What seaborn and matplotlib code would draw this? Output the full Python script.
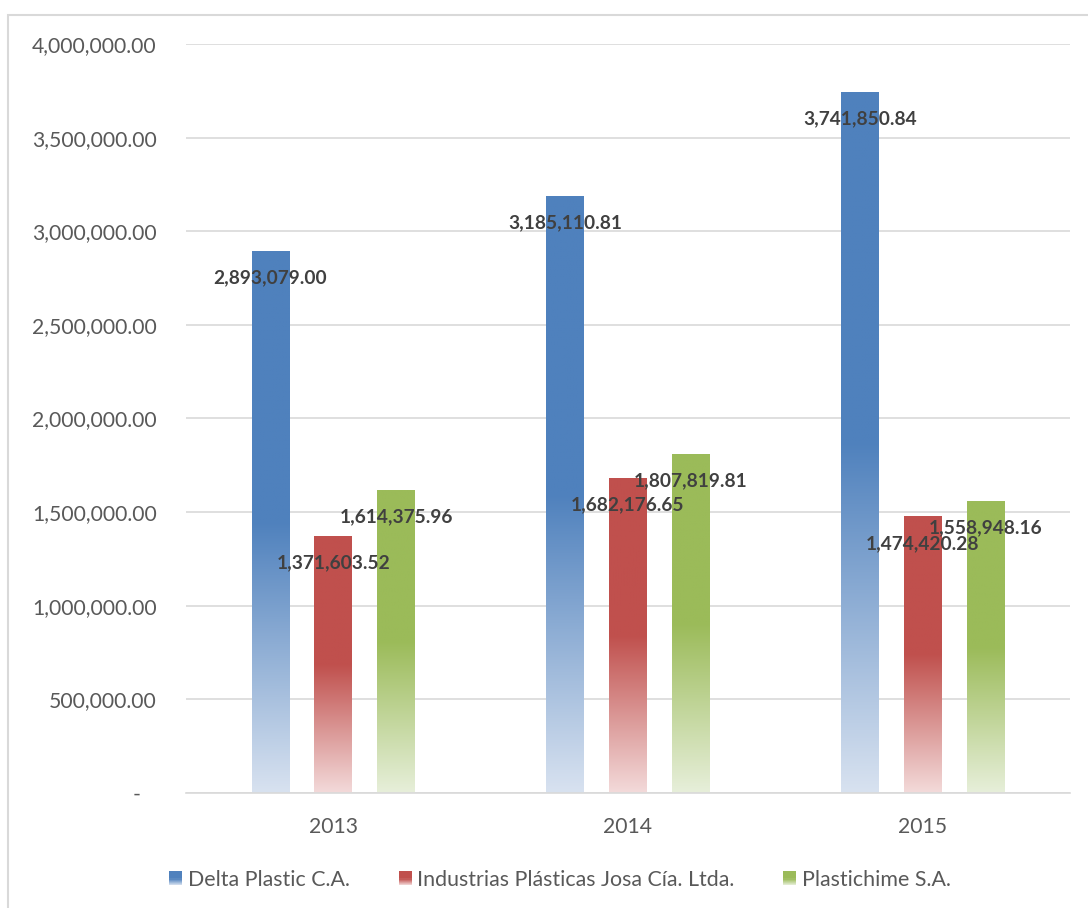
import numpy as np
import pandas as pd
import matplotlib
matplotlib.use("Agg")
import matplotlib.pyplot as plt
import matplotlib.colors as mcolors
from matplotlib.patches import Rectangle
from matplotlib.legend_handler import HandlerBase
from matplotlib.ticker import FuncFormatter
import seaborn as sns

# ---- data ----
years = ["2013", "2014", "2015"]
companies = ["Delta Plastic C.A.", "Industrias Plásticas Josa Cía. Ltda.", "Plastichime S.A."]
delta_plastic = [2893079.00, 3185110.81, 3741850.84]
josa = [1371603.52, 1682176.65, 1474420.28]
plastichime = [1614375.96, 1807819.81, 1558948.16]
yticks = [0, 500000, 1000000, 1500000, 2000000, 2500000, 3000000, 3500000, 4000000]

base_colors = ["#4F81BD", "#C0504D", "#9BBB59"]
light_colors = ["#D8E2F0", "#F3DADA", "#E7EFDA"]

rows = []
for comp, vals in zip(companies, [delta_plastic, josa, plastichime]):
    for y, v in zip(years, vals):
        rows.append({"year": y, "company": comp, "value": v})
df = pd.DataFrame(rows)

sns.set_theme(style="white")
plt.rcParams["font.family"] = ["Lato", "DejaVu Sans"]

fig = plt.figure(figsize=(10.88, 9.08), dpi=100)
ax = fig.add_axes([186 / 1088, 1 - 793 / 908, (1070 - 186) / 1088, (793 - 44) / 908])

sns.barplot(data=df, x="year", y="value", hue="company", hue_order=companies,
            order=years, palette=base_colors, width=0.64, gap=0.4,
            legend=False, errorbar=None, ax=ax)


def gradient_array(base, light, n=256, start=0.5):
    b = np.array(mcolors.to_rgb(base))
    l = np.array(mcolors.to_rgb(light))
    t = np.linspace(0, 1, n)  # 0 = top, 1 = bottom
    f = np.clip((t - start) / (1 - start), 0, 1)[:, None]
    rgb = b * (1 - f) + l * f
    return rgb[:, None, :]


# map each bar to its company via its face color
base_rgb = [mcolors.to_rgb(c) for c in base_colors]
bars = list(ax.patches)
for p in bars:
    fc = mcolors.to_rgb(p.get_facecolor())
    idx = int(np.argmin([np.sum((np.array(fc) - np.array(c)) ** 2) for c in base_rgb]))
    x0, w = p.get_x(), p.get_width()
    h = p.get_height()
    img = gradient_array(base_colors[idx], light_colors[idx])
    ax.imshow(img, extent=(x0, x0 + w, 0, h), aspect="auto", zorder=2,
              interpolation="bilinear")
    p.set_facecolor("none")
    p.set_edgecolor("none")
    # data label
    ax.annotate(f"{h:,.2f}", xy=(x0 + w / 2, h), xytext=(0, -19),
                textcoords="offset points", ha="center", va="center",
                fontsize=13.8, fontweight="bold", color="#404040", zorder=5)

ax.set_xlim(-0.5, 2.5)
ax.set_ylim(0, 4000000)
ax.set_yticks(yticks)
ax.yaxis.set_major_formatter(FuncFormatter(lambda v, pos: "-   " if v == 0 else f"{v:,.2f}"))
ax.grid(axis="y", color="#D9D9D9", linewidth=1.2, zorder=0)
ax.set_axisbelow(True)
ax.set_xlabel("")
ax.set_ylabel("")
for s in ["top", "right", "left"]:
    ax.spines[s].set_visible(False)
ax.spines["bottom"].set_color("#D9D9D9")
ax.spines["bottom"].set_linewidth(1.2)
ax.tick_params(axis="y", length=0, pad=21, labelsize=15.2, labelcolor="#595959")
ax.tick_params(axis="x", length=0, pad=17, labelsize=15.2, labelcolor="#595959")


class GradHandler(HandlerBase):
    def __init__(self, base, light):
        super().__init__()
        self.base = base
        self.light = light

    def create_artists(self, legend, orig_handle, xdescent, ydescent, width, height, fontsize, trans):
        n = 12
        arts = []
        b = np.array(mcolors.to_rgb(self.base))
        l = np.array(mcolors.to_rgb(self.light))
        for i in range(n):
            t = (i + 0.5) / n  # from bottom
            tt = 1 - t  # from top
            f = np.clip((tt - 0.5) / 0.5, 0, 1)
            col = b * (1 - f) + l * f
            r = Rectangle((-xdescent, -ydescent + i * height / n), width, height / n + 0.2,
                          facecolor=col, edgecolor="none", transform=trans)
            arts.append(r)
        return arts


handles = [Rectangle((0, 0), 1, 1, facecolor=c) for c in base_colors]
handler_map = {h: GradHandler(bc, lc) for h, bc, lc in zip(handles, base_colors, light_colors)}
fig.legend(handles, companies, handler_map=handler_map, loc="center",
           bbox_to_anchor=(560 / 1088, 1 - 880 / 908), ncol=3, frameon=False,
           fontsize=15.4, labelcolor="#595959", handlelength=0.6, handleheight=0.6,
           handletextpad=0.25, columnspacing=2.3)

# light border around the chart area
fig.patches.append(Rectangle((8 / 1088, -0.05), 1.1, 1 - 15 / 908 + 0.05,
                             transform=fig.transFigure, fill=False,
                             edgecolor="#D9D9D9", linewidth=1.5))

fig.savefig("out.png", dpi=100)
